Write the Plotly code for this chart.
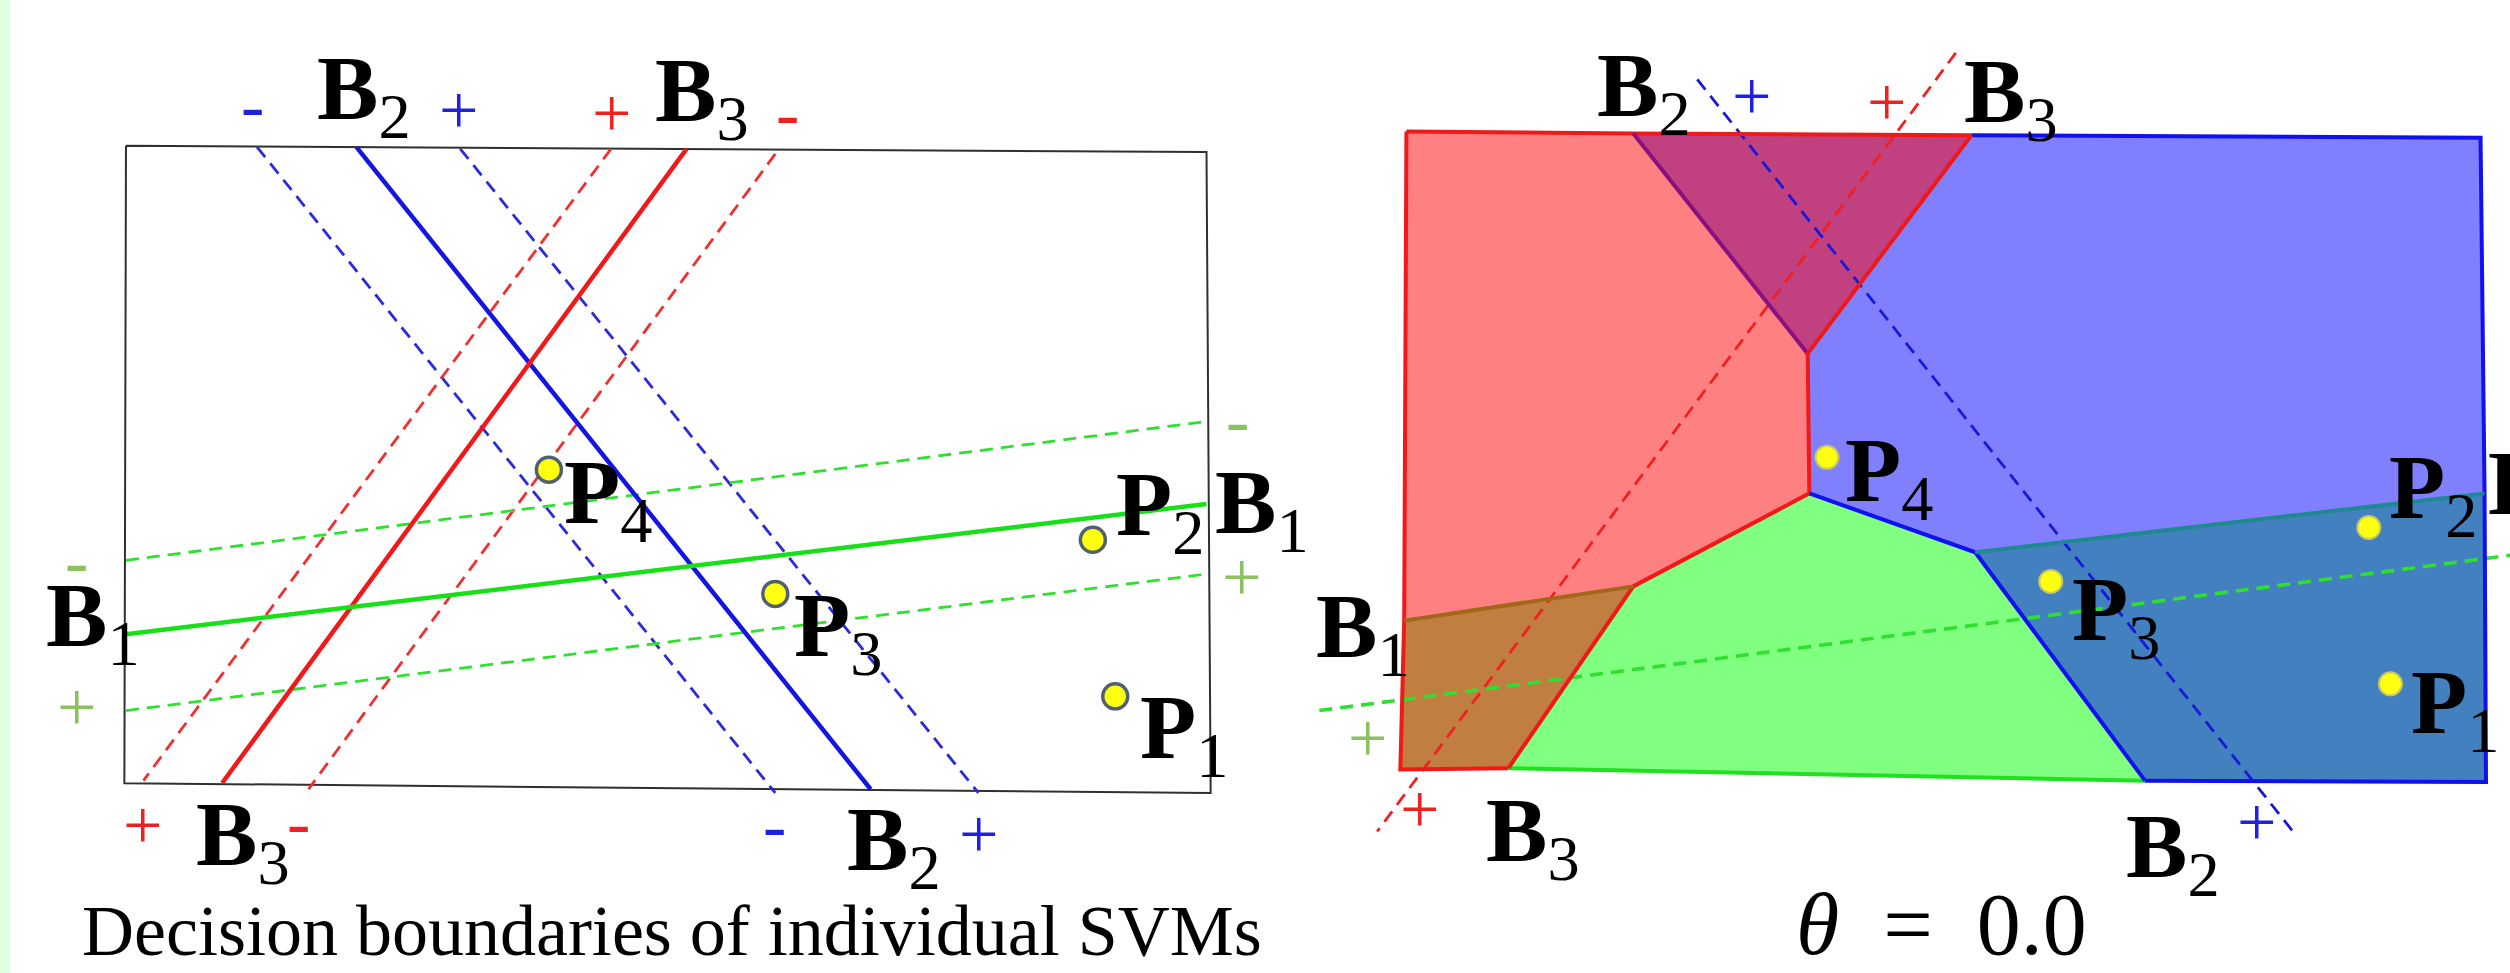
import plotly.graph_objects as go

W, H = 2510, 973
XMAX, YMAX = 1568, 608          # data units of the drawing canvas

# ---------------- Left panel: individual SVM boundaries ----------------
box_x = [78.7, 753.7, 756.3, 77.7, 78.7]
box_y = [91.1, 95.0, 495.5, 489.4, 91.1]

# each boundary: (x_start, y_start, x_end, y_end)
left_b2 = [222.7, 91.9, 543.9, 493.2]
left_b2_minus = [160.6, 91.9, 484.3, 495.5]
left_b2_plus = [287.5, 93.0, 611.2, 495.5]
left_b3 = [428.9, 93.0, 138.8, 489.3]
left_b3_plus = [381.7, 93.0, 89.6, 487.8]
left_b3_minus = [484.3, 96.2, 192.7, 493.2]
left_b1 = [78.7, 396.3, 753.7, 314.9]
left_b1_minus = [78.7, 350.1, 751.0, 263.7]
left_b1_plus = [78.7, 444.0, 753.7, 358.7]

left_pts_x = [696.7, 682.7, 484.3, 342.9]
left_pts_y = [435.1, 337.3, 371.1, 293.5]

# ---------------- Right panel: combined regions (theta = 0) ----------------
TL = (878.6, 82.2); A = (1020.3, 83.4); C = (1231.5, 84.5); TR = (1549.6, 86.1)
V1 = (1129.3, 221.0); V2 = (1130.3, 308.3); V3 = (1233.9, 345.1)
R1 = (1552.1, 308.3); BR = (1553.0, 488.6); V4 = (1340.0, 487.8)
V5 = (942.3, 480.0); BL = (874.8, 480.8); V6 = (1020.3, 366.4); L1 = (877.2, 387.8)

regions = [
    ("red",    [TL, A, V1, V2, V6, L1], "#FF8080"),
    ("purple", [A, C, V1],              "#C04080"),
    ("blue",   [C, TR, R1, V3, V2, V1], "#8080FF"),
    ("teal",   [V3, R1, BR, V4],        "#4380C0"),
    ("green",  [V2, V3, V4, V5, V6],    "#80FF80"),
    ("brown",  [L1, V6, V5, BL],        "#C07E40"),
]
edges = [
    ([TL, A, C], "#F01818"), ([C, TR, R1, BR, V4], "#1010F0"),
    ([TL, L1, BL, V5], "#F01818"), ([V5, V4], "#20E020"),
    ([A, V1], "#8A1080"), ([C, V1, V2, V6, V5], "#F01818"),
    ([V2, V3, V4], "#1010F0"), ([V6, L1], "#A06818"), ([V3, R1], "#1E8A90"),
]

right_b3 = [1221.8, 33.0, 860.3, 519.6]
right_b2 = [1060.3, 49.6, 1433.9, 521.5]
right_b1 = [824.2, 444.0, 1568.0, 347.0]

right_pts_x = [1493.3, 1479.8, 1281.1, 1141.3]
right_pts_y = [427.3, 329.6, 363.3, 285.8]

# ---------------- Labels ----------------
# (letter, index, x_left, y_center)
name_labels = [
    ("B", "2", 198, 56), ("B", "3", 409, 57), ("B", "1", 759, 315), ("B", "1", 28.5, 385.5),
    ("B", "3", 122, 522.5), ("B", "2", 529, 525.5),
    ("P", "4", 352, 308.5), ("P", "3", 496, 391.5), ("P", "2", 697, 316), ("P", "1", 712, 455.5),
    ("B", "2", 997.7, 54.3), ("B", "3", 1226.6, 58.2), ("B", "1", 821.7, 392.5),
    ("B", "3", 927.8, 519.5), ("B", "2", 1327.9, 530), ("B", "1", 1554.3, 303),
    ("P", "4", 1152.5, 294.5), ("P", "3", 1294.2, 381.5), ("P", "2", 1492, 305.5), ("P", "1", 1506, 440),
]
# (sign, x, y, colour)
sign_labels = [
    ("-", 158, 66, "#2020E0"), ("+", 286.4, 69, "#2020E0"), ("+", 381.7, 71, "#F02020"),
    ("-", 492, 71, "#F02020"), ("-", 772.8, 262.9, "#8CC060"), ("+", 775.4, 360.6, "#8CC060"),
    ("-", 48, 351, "#8CC060"), ("+", 47.7, 442, "#8CC060"), ("+", 89, 515.7, "#F02020"),
    ("-", 186.5, 514, "#F02020"), ("-", 484, 515.7, "#2020E0"), ("+", 611, 521.5, "#2020E0"),
    ("+", 1094, 60, "#2020E0"), ("+", 1178.5, 64, "#F02020"), ("+", 854.5, 461.4, "#8CC060"),
    ("+", 886.8, 506, "#F02020"), ("+", 1409.9, 513.8, "#2020E0"),
]
captions = [("Decision boundaries of individual SVMs", 420, 582, 72),
            ("<i>θ</i>\u00a0\u00a0=\u00a0\u00a00.0", 1213, 578, 88)]

fig = go.Figure()

def seg(b, color, width, dash="solid"):
    fig.add_trace(go.Scatter(x=[b[0], b[2]], y=[b[1], b[3]], mode="lines",
                             line=dict(color=color, width=width, dash=dash),
                             hoverinfo="skip", showlegend=False))

DASH = "13px,8px"

# left panel
fig.add_trace(go.Scatter(x=box_x, y=box_y, mode="lines", line=dict(color="#303030", width=2),
                         hoverinfo="skip", showlegend=False))
seg(left_b2_minus, "#2A2AE0", 2.8, DASH)
seg(left_b2_plus, "#2A2AE0", 2.8, DASH)
seg(left_b3_plus, "#F03030", 2.8, DASH)
seg(left_b3_minus, "#F03030", 2.8, DASH)
seg(left_b1_minus, "#30E030", 2.8, DASH)
seg(left_b1_plus, "#30E030", 2.8, DASH)
seg(left_b2, "#1515E0", 4.5)
seg(left_b3, "#F01818", 4.5)
seg(left_b1, "#18E018", 4.5)
fig.add_trace(go.Scatter(x=left_pts_x, y=left_pts_y, mode="markers",
                         marker=dict(color="#FFFF10", size=25, line=dict(color="#506070", width=3.5)),
                         hoverinfo="skip", showlegend=False))

# right panel
for name, pts, col in regions:
    xs = [p[0] for p in pts] + [pts[0][0]]
    ys = [p[1] for p in pts] + [pts[0][1]]
    fig.add_trace(go.Scatter(x=xs, y=ys, mode="lines", fill="toself", fillcolor=col,
                             line=dict(width=0, color=col), hoverinfo="skip", showlegend=False))
seg(right_b3, "#F02020", 2.8, DASH)
seg(right_b2, "#1818D8", 2.8, DASH)
seg(right_b1, "#30E030", 3.6, DASH)
for pts, col in edges:
    fig.add_trace(go.Scatter(x=[p[0] for p in pts], y=[p[1] for p in pts], mode="lines",
                             line=dict(color=col, width=4), hoverinfo="skip", showlegend=False))
fig.add_trace(go.Scatter(x=right_pts_x, y=right_pts_y, mode="markers",
                         marker=dict(color="#FFFF10", size=23, line=dict(color="#C8C860", width=2)),
                         hoverinfo="skip", showlegend=False))

ann = []
for L, n, x, y in name_labels:
    ann.append(dict(x=x - 1, y=y + 3, xref="x", yref="y", xanchor="left", yanchor="middle",
                    text=f"<b>{L}</b><sub>{n}</sub>", showarrow=False,
                    font=dict(family="Liberation Serif", size=92, color="#000000")))
for s, x, y, c in sign_labels:
    ann.append(dict(x=x, y=y, xref="x", yref="y", xanchor="center", yanchor="middle",
                    text=s, showarrow=False,
                    font=dict(family="Liberation Serif", size=70, color=c)))
for t, x, y, sz in captions:
    ann.append(dict(x=x, y=y, xref="x", yref="y", xanchor="center", yanchor="middle",
                    text=t, showarrow=False,
                    font=dict(family="Liberation Serif", size=sz, color="#000000")))

fig.update_layout(
    width=W, height=H, margin=dict(l=0, r=0, t=0, b=0),
    paper_bgcolor="white", plot_bgcolor="white",
    xaxis=dict(range=[0, XMAX], visible=False, fixedrange=True),
    yaxis=dict(range=[YMAX, 0], visible=False, fixedrange=True),
    annotations=ann,
    shapes=[dict(type="rect", xref="paper", yref="paper", x0=0, x1=10 / W, y0=0, y1=1,
                 fillcolor="#E0FFE0", line=dict(width=0), layer="below")],
)
fig.write_html("out.html", config={"displayModeBar": False},
               post_script="document.body.style.margin='0';document.body.style.overflow='hidden';")
